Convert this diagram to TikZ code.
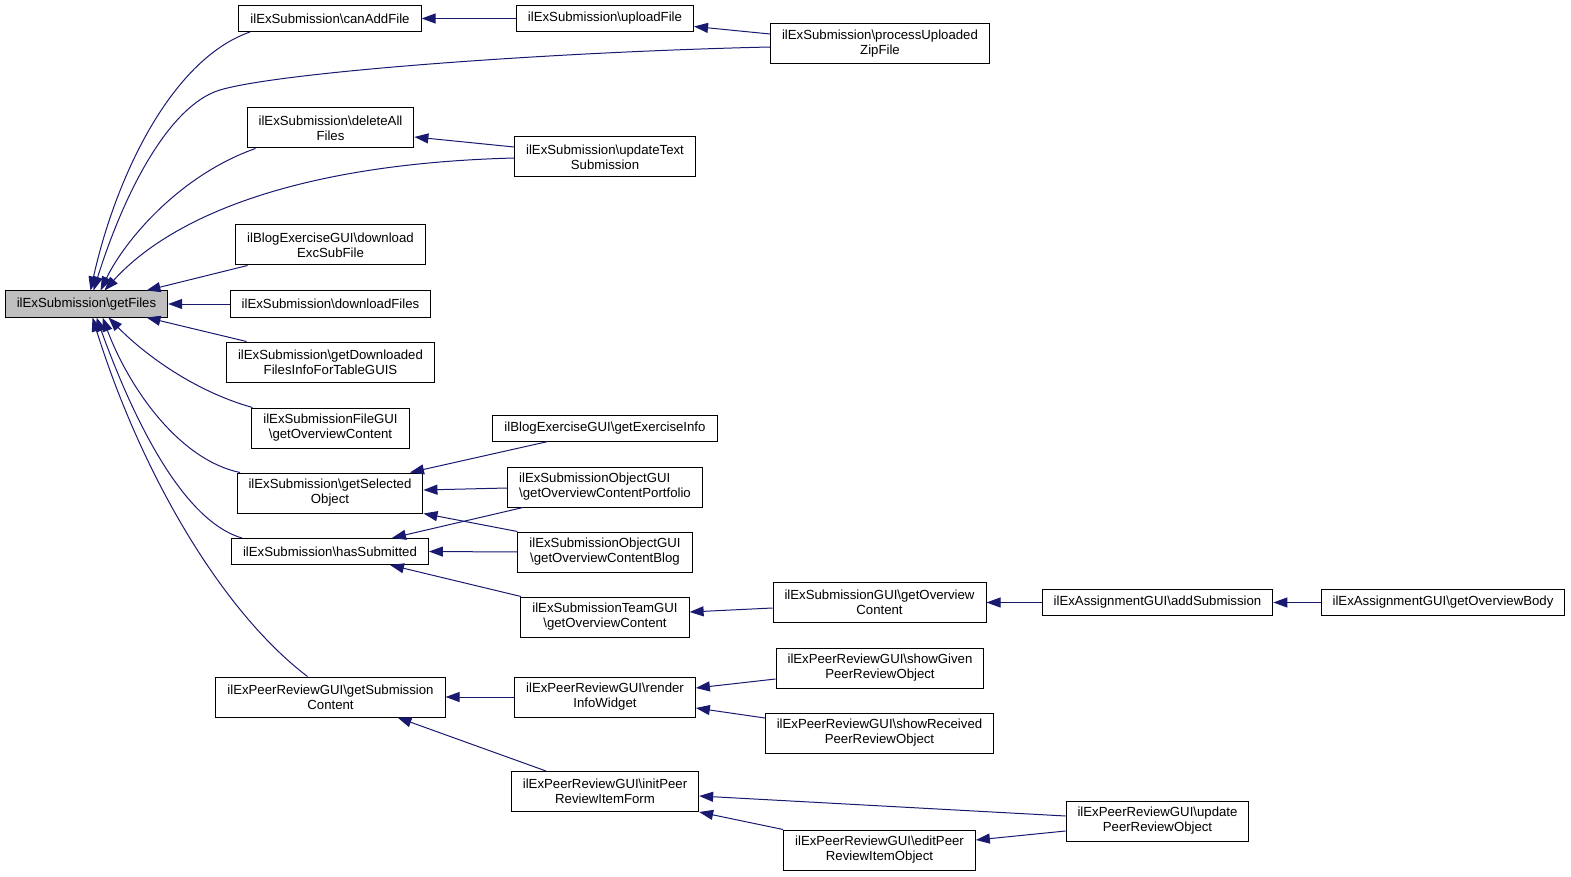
\documentclass[tikz,border=0pt]{standalone}
\usepackage{fontspec}
\setmainfont{Liberation Sans}
\usetikzlibrary{arrows.meta}
\definecolor{calledge}{HTML}{191970}
\definecolor{rootfill}{HTML}{BFBFBF}
\newcommand{\bsl}{\textbackslash}

\begin{document}
\begin{tikzpicture}[x=1pt, y=-1pt,
    func/.style={draw, line width=1pt, font=\fontsize{13.2pt}{15pt}\selectfont, inner xsep=11.5pt, inner ysep=2pt, minimum height=26pt, align=center},
    func2/.style={func, minimum height=40pt},
    root/.style={func, fill=rootfill},
    calls/.style={draw=calledge, line width=1pt, {Triangle[length=14pt, width=10pt]}-}
]
    \useasboundingbox (0,0) rectangle (1571,877);

    \node [root] (getFiles) at (86.5,304) {ilExSubmission\bsl getFiles};

    \node [func] (canAdd) at (330,18.5) {ilExSubmission\bsl canAddFile};
    \node [func2] (delAll) at (330.5,128) {ilExSubmission\bsl deleteAll\\Files};
    \node [func2] (dlExc) at (330.5,245) {ilBlogExerciseGUI\bsl download\\ExcSubFile};
    \node [func] (dlFiles) at (330.5,304) {ilExSubmission\bsl downloadFiles};
    \node [func2] (dlInfo) at (330.5,362) {ilExSubmission\bsl getDownloaded\\FilesInfoForTableGUIS};
    \node [func2] (fileGui) at (330.5,428) {ilExSubmissionFileGUI\\\bsl getOverviewContent};
    \node [func2] (getSel) at (330,493) {ilExSubmission\bsl getSelected\\Object};
    \node [func] (hasSub) at (330,551.5) {ilExSubmission\bsl hasSubmitted};
    \node [func2] (getSubC) at (330.5,697) {ilExPeerReviewGUI\bsl getSubmission\\Content};

    \node [func] (upload) at (605,18.5) {ilExSubmission\bsl uploadFile};
    \node [func2] (updText) at (605,157) {ilExSubmission\bsl updateText\\Submission};
    \node [func] (exInfo) at (605,428) {ilBlogExerciseGUI\bsl getExerciseInfo};
    \node [func2, align=left] (objPort) at (605,487) {ilExSubmissionObjectGUI\\\bsl getOverviewContentPortfolio};
    \node [func2] (objBlog) at (605,552) {ilExSubmissionObjectGUI\\\bsl getOverviewContentBlog};
    \node [func2] (teamGui) at (605,617) {ilExSubmissionTeamGUI\\\bsl getOverviewContent};
    \node [func2] (render) at (605,697) {ilExPeerReviewGUI\bsl render\\InfoWidget};
    \node [func2] (initPeer) at (605,791.5) {ilExPeerReviewGUI\bsl initPeer\\ReviewItemForm};

    \node [func2] (process) at (880,44) {ilExSubmission\bsl processUploaded\\ZipFile};
    \node [func2] (subGui) at (879.5,602.5) {ilExSubmissionGUI\bsl getOverview\\Content};
    \node [func2] (showGiven) at (880,668) {ilExPeerReviewGUI\bsl showGiven\\PeerReviewObject};
    \node [func2] (showRec) at (879.5,733) {ilExPeerReviewGUI\bsl showReceived\\PeerReviewObject};
    \node [func2] (editPeer) at (879.5,850) {ilExPeerReviewGUI\bsl editPeer\\ReviewItemObject};

    \node [func] (addSub) at (1157.5,602.5) {ilExAssignmentGUI\bsl addSubmission};
    \node [func2] (updPeer) at (1157.5,821) {ilExPeerReviewGUI\bsl update\\PeerReviewObject};
    \node [func] (ovBody) at (1443,602.5) {ilExAssignmentGUI\bsl getOverviewBody};

    % callers of getFiles
    \draw [calls] ([xshift=4pt]getFiles.north) .. controls (115,180) and (170,60) .. ([xshift=-80pt]canAdd.south);
    \draw [calls] ([xshift=7pt]getFiles.north) .. controls (125,190) and (170,105) .. (220,90) .. controls (280,72) and (550,52) .. ([yshift=-3pt]process.west);
    \draw [calls] ([xshift=14pt]getFiles.north) .. controls (125,240) and (180,175) .. ([xshift=-75pt]delAll.south);
    \draw [calls] ([xshift=18pt]getFiles.north) .. controls (150,240) and (250,165) .. ([yshift=-1pt]updText.west);
    \draw [calls] ([xshift=60pt]getFiles.north) -- ([xshift=-83pt]dlExc.south);
    \draw [calls] (getFiles.east) -- (dlFiles.west);
    \draw [calls] ([xshift=60pt]getFiles.south) -- ([xshift=-84pt]dlInfo.north);
    \draw [calls] ([xshift=22pt]getFiles.south) .. controls (140,350) and (190,390) .. ([xshift=-78pt]fileGui.north);
    \draw [calls] ([xshift=16pt]getFiles.south) .. controls (130,390) and (180,460) .. ([xshift=-90pt]getSel.north);
    \draw [calls] ([xshift=10pt]getFiles.south) .. controls (130,410) and (180,520) .. ([xshift=-88pt]hasSub.north);
    \draw [calls] ([xshift=6pt]getFiles.south) .. controls (140,470) and (220,610) .. ([xshift=-23pt]getSubC.north);

    % further callers
    \draw [calls] (canAdd.east) -- (upload.west);
    \draw [calls] ([yshift=-8pt]upload.east) -- ([yshift=10pt]process.west);
    \draw [calls] ([yshift=-9pt]delAll.east) -- ([yshift=10pt]updText.west);
    \draw [calls] ([xshift=80pt]getSel.north) -- ([xshift=-57pt]exInfo.south);
    \draw [calls] ([yshift=3pt]getSel.east) -- ([yshift=-1pt]objPort.west);
    \draw [calls] (getSel.south east) -- (objBlog.north west);
    \draw [calls] ([xshift=62pt]hasSub.north) -- ([xshift=-82pt]objPort.south);
    \draw [calls] (hasSub.east) -- (objBlog.west);
    \draw [calls] ([xshift=60pt]hasSub.south) -- ([xshift=-84pt]teamGui.north);
    \draw [calls] ([yshift=5pt]teamGui.east) -- ([yshift=-5.5pt]subGui.west);
    \draw [calls] (subGui.east) -- (addSub.west);
    \draw [calls] (addSub.east) -- (ovBody.west);
    \draw [calls] (getSubC.east) -- (render.west);
    \draw [calls] ([xshift=67pt]getSubC.south) -- ([xshift=-59pt]initPeer.north);
    \draw [calls] ([yshift=9pt]render.east) -- ([yshift=-11pt]showGiven.west);
    \draw [calls] ([yshift=-11pt]render.east) -- ([yshift=15pt]showRec.west);
    \draw [calls] ([yshift=-4.5pt]initPeer.east) -- ([yshift=5pt]updPeer.west);
    \draw [calls] (initPeer.south east) -- (editPeer.north west);
    \draw [calls] ([yshift=10pt]editPeer.east) -- ([yshift=-10pt]updPeer.west);
\end{tikzpicture}
\end{document}
